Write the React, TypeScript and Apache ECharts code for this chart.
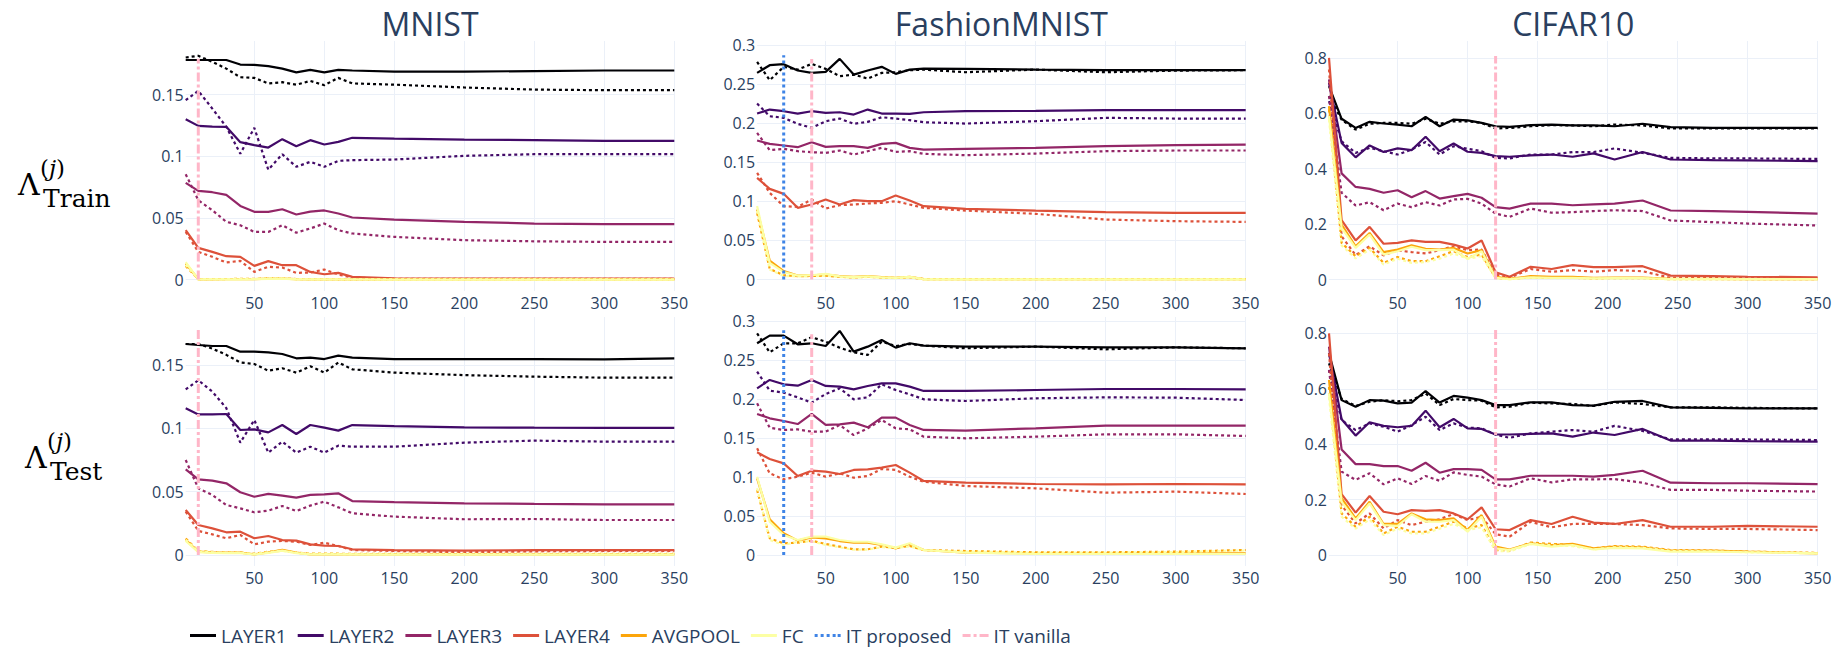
import React, { useEffect, useRef } from 'react';
import * as echarts from 'echarts';

// ---------------- data ----------------
const EPOCHS_A = [1, 10, 20, 30, 40, 50, 60, 70, 80, 90, 100, 110, 120, 150, 200, 250, 300, 350];
const EPOCHS_C = [1, 10, 20, 30, 40, 50, 60, 70, 80, 90, 100, 110, 120, 130, 145, 160, 175, 190, 205, 225, 245, 275, 300, 350];
const LAYERS = ['LAYER1', 'LAYER2', 'LAYER3', 'LAYER4', 'AVGPOOL', 'FC'];
const DATASETS = ['MNIST', 'FashionMNIST', 'CIFAR10'];

// rows: LAYER1, LAYER2, LAYER3, LAYER4, AVGPOOL, FC
const MNIST_TRAIN_SOLID = [
  [0.178, 0.178, 0.178, 0.178, 0.1743, 0.174, 0.173, 0.171, 0.168, 0.170, 0.168, 0.170, 0.1695, 0.1686, 0.1686, 0.169, 0.1695, 0.1695],
  [0.130, 0.1246, 0.124, 0.1238, 0.1114, 0.109, 0.107, 0.1138, 0.108, 0.113, 0.1095, 0.1116, 0.1149, 0.1143, 0.1135, 0.113, 0.1124, 0.1124],
  [0.0784, 0.0719, 0.0708, 0.0686, 0.0597, 0.0549, 0.0549, 0.057, 0.0527, 0.0551, 0.056, 0.0535, 0.0503, 0.0486, 0.0468, 0.0454, 0.0449, 0.0449],
  [0.040, 0.0257, 0.0224, 0.0189, 0.0184, 0.0111, 0.0149, 0.0116, 0.0116, 0.0062, 0.0043, 0.0054, 0.0022, 0.001, 0.0008, 0.0008, 0.0008, 0.0008],
  [0.013, 0.0002, 0.0002, 0.0003, 0.0003, 0.0004, 0.0008, 0.0008, 0.0003, 0.0002, 0.0002, 0.0002, 0.0001, 0.0001, 0.0001, 0.0001, 0.0001, 0.0001],
  [0.014, 0.0001, 0.0001, 0.0002, 0.0002, 0.0003, 0.0006, 0.0007, 0.0002, 0.0001, 0.0001, 0.0001, 0.0001, 0, 0, 0, 0, 0],
];
const MNIST_TRAIN_DOTTED = [
  [0.180, 0.1814, 0.1765, 0.171, 0.164, 0.1635, 0.159, 0.160, 0.158, 0.161, 0.1576, 0.1635, 0.159, 0.158, 0.1557, 0.154, 0.1535, 0.1535],
  [0.1454, 0.153, 0.1386, 0.1238, 0.102, 0.123, 0.089, 0.1016, 0.0914, 0.0954, 0.0914, 0.0962, 0.0968, 0.0973, 0.1003, 0.1016, 0.1016, 0.1016],
  [0.0854, 0.0643, 0.0562, 0.0468, 0.044, 0.0386, 0.0386, 0.044, 0.038, 0.0414, 0.0454, 0.040, 0.0373, 0.0346, 0.0319, 0.031, 0.0305, 0.0305],
  [0.0386, 0.0224, 0.0184, 0.0138, 0.0151, 0.0062, 0.0103, 0.0097, 0.0054, 0.0057, 0.0081, 0.004, 0.0016, 0.0005, 0.0005, 0.0005, 0.0005, 0.0005],
  [0.011, 0.0003, 0.0004, 0.0004, 0.0005, 0.0005, 0.001, 0.0009, 0.0004, 0.0003, 0.0003, 0.0002, 0.0002, 0.0002, 0.0002, 0.0002, 0.0002, 0.0002],
  [0.012, 0.0002, 0.0003, 0.0003, 0.0004, 0.0004, 0.0009, 0.0008, 0.0003, 0.0002, 0.0002, 0.0001, 0.0001, 0.0001, 0.0001, 0.0001, 0.0001, 0.0001],
];
const MNIST_TEST_SOLID = [
  [0.1666, 0.1658, 0.165, 0.165, 0.1605, 0.1605, 0.160, 0.1587, 0.1553, 0.1558, 0.1547, 0.1574, 0.1558, 0.1547, 0.1547, 0.1547, 0.1545, 0.1553],
  [0.1158, 0.111, 0.111, 0.1113, 0.0987, 0.0992, 0.0968, 0.1026, 0.0955, 0.1026, 0.1005, 0.0982, 0.1026, 0.1018, 0.1008, 0.1005, 0.1003, 0.1003],
  [0.0676, 0.0597, 0.0587, 0.0566, 0.0495, 0.046, 0.0482, 0.0468, 0.0453, 0.0474, 0.0479, 0.0487, 0.0426, 0.0418, 0.0408, 0.0403, 0.040, 0.040],
  [0.0355, 0.0237, 0.021, 0.0179, 0.0184, 0.0132, 0.015, 0.0118, 0.0113, 0.0084, 0.0074, 0.0071, 0.0045, 0.0039, 0.0034, 0.0039, 0.0039, 0.0039],
  [0.012, 0.0026, 0.002, 0.0018, 0.0018, 0.0005, 0.002, 0.004, 0.0018, 0.0005, 0.0005, 0.0005, 0.0005, 0.0005, 0.0005, 0.0005, 0.0005, 0.0005],
  [0.011, 0.0022, 0.0017, 0.0015, 0.0015, 0.0004, 0.0017, 0.0035, 0.0015, 0.0004, 0.0004, 0.0004, 0.0004, 0.0003, 0.0003, 0.0003, 0.0003, 0.0003],
];
const MNIST_TEST_DOTTED = [
  [0.1666, 0.1666, 0.163, 0.158, 0.152, 0.1508, 0.1455, 0.1474, 0.144, 0.149, 0.144, 0.152, 0.1466, 0.144, 0.142, 0.1408, 0.140, 0.140],
  [0.1308, 0.138, 0.129, 0.116, 0.0887, 0.1066, 0.0808, 0.0895, 0.0808, 0.0855, 0.0808, 0.0863, 0.0855, 0.0855, 0.0887, 0.0903, 0.0895, 0.0895],
  [0.075, 0.0526, 0.0474, 0.0395, 0.0368, 0.0337, 0.035, 0.0387, 0.0347, 0.039, 0.0421, 0.0376, 0.0329, 0.0303, 0.0282, 0.0284, 0.0276, 0.0276],
  [0.0342, 0.019, 0.0163, 0.0132, 0.0158, 0.0084, 0.0105, 0.0111, 0.0105, 0.0079, 0.0097, 0.0071, 0.0039, 0.0032, 0.0021, 0.0029, 0.0032, 0.0032],
  [0.013, 0.003, 0.0025, 0.002, 0.002, 0.001, 0.0025, 0.0035, 0.002, 0.001, 0.001, 0.001, 0.0008, 0.0008, 0.0008, 0.0008, 0.0008, 0.0008],
  [0.012, 0.0028, 0.0022, 0.0018, 0.0018, 0.0008, 0.0022, 0.0032, 0.0018, 0.0008, 0.0008, 0.0008, 0.0006, 0.0006, 0.0006, 0.0006, 0.0006, 0.0006],
];

const FMNIST_TRAIN_SOLID = [
  [0.2646, 0.2744, 0.2757, 0.2676, 0.2646, 0.2659, 0.2825, 0.2624, 0.2676, 0.2723, 0.2633, 0.2688, 0.2701, 0.2697, 0.2688, 0.268, 0.268, 0.268],
  [0.2125, 0.2176, 0.2155, 0.2125, 0.2155, 0.2134, 0.2142, 0.2112, 0.2176, 0.2125, 0.2125, 0.2121, 0.2142, 0.2155, 0.2159, 0.2168, 0.2168, 0.2168],
  [0.178, 0.1737, 0.1716, 0.1694, 0.1758, 0.1698, 0.1707, 0.1707, 0.1686, 0.1737, 0.175, 0.1686, 0.1664, 0.1673, 0.1686, 0.1707, 0.172, 0.1728],
  [0.1302, 0.1161, 0.1097, 0.0918, 0.096, 0.1024, 0.096, 0.1016, 0.1003, 0.1003, 0.1075, 0.1011, 0.0939, 0.0905, 0.0883, 0.0862, 0.0853, 0.0853],
  [0.0896, 0.0243, 0.0107, 0.0051, 0.0055, 0.0064, 0.0043, 0.0034, 0.0043, 0.003, 0.0021, 0.0034, 0.0004, 0.0004, 0.0004, 0.0004, 0.0004, 0.0004],
  [0.094, 0.0213, 0.0094, 0.005, 0.0055, 0.0073, 0.004, 0.003, 0.004, 0.0028, 0.002, 0.0035, 0.0003, 0.0003, 0.0003, 0.0003, 0.0003, 0.0003],
];
const FMNIST_TRAIN_DOTTED = [
  [0.2787, 0.2552, 0.2723, 0.2688, 0.2761, 0.2697, 0.2603, 0.2624, 0.2573, 0.2646, 0.2654, 0.268, 0.2688, 0.2654, 0.2688, 0.2654, 0.2675, 0.268],
  [0.2253, 0.2091, 0.207, 0.1993, 0.1942, 0.2027, 0.2061, 0.1993, 0.2019, 0.2078, 0.2061, 0.204, 0.2014, 0.1997, 0.2027, 0.207, 0.2061, 0.2061],
  [0.1878, 0.1656, 0.1673, 0.1643, 0.163, 0.1622, 0.1652, 0.160, 0.1643, 0.1686, 0.1634, 0.1643, 0.1609, 0.1592, 0.1613, 0.1643, 0.1652, 0.1652],
  [0.1366, 0.111, 0.0939, 0.093, 0.1024, 0.0909, 0.0952, 0.096, 0.0973, 0.0982, 0.1003, 0.096, 0.0918, 0.0883, 0.0841, 0.0768, 0.0747, 0.0738],
  [0.0853, 0.0137, 0.0055, 0.0043, 0.0045, 0.005, 0.0035, 0.0025, 0.0035, 0.0025, 0.002, 0.003, 0.0005, 0.0005, 0.0005, 0.0005, 0.0005, 0.0005],
  [0.088, 0.0128, 0.0045, 0.004, 0.0042, 0.0048, 0.0032, 0.0022, 0.0032, 0.0022, 0.0018, 0.0028, 0.0004, 0.0004, 0.0004, 0.0004, 0.0004, 0.0004],
];
const FMNIST_TEST_SOLID = [
  [0.2714, 0.2812, 0.2812, 0.2701, 0.2714, 0.2679, 0.2872, 0.2607, 0.2671, 0.2756, 0.2658, 0.2714, 0.2684, 0.2671, 0.2671, 0.2662, 0.2662, 0.265],
  [0.2137, 0.2244, 0.2188, 0.2171, 0.2244, 0.2167, 0.2158, 0.2124, 0.2167, 0.2201, 0.2201, 0.2158, 0.2103, 0.2103, 0.2115, 0.2128, 0.2128, 0.2124],
  [0.1808, 0.1752, 0.1718, 0.1679, 0.1808, 0.1667, 0.1675, 0.1697, 0.1637, 0.1761, 0.1761, 0.1667, 0.1603, 0.1594, 0.1624, 0.1658, 0.1658, 0.1658],
  [0.1316, 0.1231, 0.1175, 0.1013, 0.1081, 0.1068, 0.1038, 0.109, 0.1098, 0.112, 0.1154, 0.1056, 0.0949, 0.0927, 0.091, 0.0906, 0.091, 0.0906],
  [0.0983, 0.0457, 0.0278, 0.0184, 0.0226, 0.0214, 0.0179, 0.0158, 0.0158, 0.0128, 0.0085, 0.0141, 0.0064, 0.003, 0.0021, 0.0021, 0.0021, 0.0021],
  [0.1004, 0.0427, 0.0256, 0.0192, 0.0235, 0.0235, 0.0192, 0.017, 0.017, 0.0137, 0.0094, 0.015, 0.0064, 0.003, 0.0013, 0.0013, 0.0013, 0.0013],
];
const FMNIST_TEST_DOTTED = [
  [0.2842, 0.2598, 0.2714, 0.2714, 0.2791, 0.2735, 0.2658, 0.2598, 0.2564, 0.2735, 0.2679, 0.2705, 0.2684, 0.265, 0.2671, 0.2637, 0.2662, 0.265],
  [0.235, 0.2107, 0.2081, 0.2021, 0.1953, 0.2064, 0.2137, 0.1996, 0.2021, 0.2188, 0.2115, 0.206, 0.1996, 0.1974, 0.2009, 0.2021, 0.2017, 0.1987],
  [0.1944, 0.1632, 0.1603, 0.1611, 0.1581, 0.1581, 0.1667, 0.1538, 0.1624, 0.1731, 0.1624, 0.1611, 0.1517, 0.1496, 0.1517, 0.1547, 0.1547, 0.1526],
  [0.1368, 0.1047, 0.097, 0.1004, 0.1056, 0.1004, 0.1047, 0.0991, 0.1013, 0.1103, 0.109, 0.1004, 0.094, 0.0885, 0.0855, 0.0799, 0.0812, 0.0782],
  [0.0833, 0.0214, 0.015, 0.0158, 0.0184, 0.0141, 0.0107, 0.0073, 0.0073, 0.0107, 0.0094, 0.0115, 0.0064, 0.0051, 0.0034, 0.0034, 0.0043, 0.0064],
  [0.0855, 0.0192, 0.0128, 0.017, 0.0175, 0.013, 0.0098, 0.0068, 0.0068, 0.01, 0.009, 0.011, 0.006, 0.0045, 0.003, 0.003, 0.0038, 0.0058],
];

const CIFAR_TRAIN_SOLID = [
  [0.698, 0.58, 0.547, 0.569, 0.563, 0.559, 0.553, 0.587, 0.553, 0.577, 0.574, 0.565, 0.553, 0.551, 0.557, 0.559, 0.556, 0.556, 0.553, 0.562, 0.55, 0.547, 0.547, 0.547],
  [0.71, 0.493, 0.441, 0.484, 0.46, 0.473, 0.467, 0.515, 0.463, 0.491, 0.461, 0.457, 0.445, 0.443, 0.448, 0.451, 0.443, 0.455, 0.433, 0.46, 0.433, 0.431, 0.43, 0.427],
  [0.722, 0.383, 0.334, 0.327, 0.313, 0.322, 0.297, 0.319, 0.292, 0.301, 0.309, 0.295, 0.261, 0.256, 0.274, 0.274, 0.268, 0.271, 0.274, 0.285, 0.249, 0.247, 0.244, 0.238],
  [0.8, 0.214, 0.141, 0.19, 0.129, 0.132, 0.141, 0.136, 0.136, 0.126, 0.112, 0.141, 0.026, 0.01, 0.046, 0.038, 0.052, 0.045, 0.045, 0.048, 0.014, 0.012, 0.01, 0.008],
  [0.626, 0.198, 0.12, 0.168, 0.099, 0.108, 0.123, 0.111, 0.108, 0.114, 0.094, 0.106, 0.01, 0.002, 0.012, 0.01, 0.01, 0.006, 0.007, 0.007, 0.002, 0.002, 0.001, 0.001],
  [0.59, 0.186, 0.114, 0.162, 0.09, 0.102, 0.118, 0.106, 0.106, 0.108, 0.075, 0.102, 0.006, 0.001, 0.008, 0.006, 0.006, 0.004, 0.005, 0.005, 0.001, 0.001, 0.001, 0.001],
];
const CIFAR_TRAIN_DOTTED = [
  [0.662, 0.577, 0.541, 0.562, 0.565, 0.565, 0.562, 0.58, 0.562, 0.571, 0.571, 0.565, 0.545, 0.547, 0.553, 0.557, 0.556, 0.553, 0.559, 0.556, 0.545, 0.545, 0.545, 0.545],
  [0.644, 0.499, 0.457, 0.475, 0.463, 0.451, 0.469, 0.496, 0.451, 0.481, 0.472, 0.463, 0.439, 0.437, 0.451, 0.451, 0.46, 0.46, 0.473, 0.457, 0.439, 0.437, 0.437, 0.435],
  [0.662, 0.313, 0.267, 0.279, 0.25, 0.274, 0.261, 0.279, 0.267, 0.289, 0.291, 0.274, 0.238, 0.226, 0.256, 0.241, 0.243, 0.247, 0.25, 0.247, 0.213, 0.207, 0.202, 0.195],
  [0.758, 0.156, 0.088, 0.12, 0.087, 0.105, 0.099, 0.094, 0.106, 0.12, 0.106, 0.108, 0.018, 0.006, 0.038, 0.028, 0.034, 0.028, 0.034, 0.03, 0.006, 0.006, 0.005, 0.004],
  [0.614, 0.132, 0.084, 0.114, 0.06, 0.081, 0.066, 0.066, 0.084, 0.102, 0.081, 0.09, 0.006, 0.002, 0.008, 0.006, 0.006, 0.004, 0.005, 0.005, 0.001, 0.001, 0.001, 0.001],
  [0.578, 0.123, 0.076, 0.108, 0.054, 0.075, 0.06, 0.063, 0.075, 0.094, 0.075, 0.084, 0.005, 0.001, 0.006, 0.005, 0.005, 0.003, 0.004, 0.004, 0.001, 0.001, 0.001, 0.001],
];
const CIFAR_TEST_SOLID = [
  [0.728, 0.559, 0.535, 0.559, 0.557, 0.547, 0.55, 0.592, 0.55, 0.574, 0.568, 0.559, 0.541, 0.541, 0.551, 0.551, 0.541, 0.539, 0.553, 0.556, 0.533, 0.531, 0.529, 0.529],
  [0.728, 0.49, 0.431, 0.479, 0.466, 0.461, 0.466, 0.521, 0.461, 0.491, 0.457, 0.455, 0.435, 0.435, 0.437, 0.439, 0.427, 0.442, 0.433, 0.455, 0.413, 0.413, 0.411, 0.409],
  [0.752, 0.381, 0.328, 0.328, 0.321, 0.321, 0.304, 0.333, 0.297, 0.31, 0.31, 0.307, 0.273, 0.273, 0.286, 0.286, 0.286, 0.283, 0.289, 0.304, 0.261, 0.259, 0.259, 0.256],
  [0.8, 0.22, 0.153, 0.213, 0.156, 0.147, 0.162, 0.159, 0.162, 0.15, 0.129, 0.172, 0.093, 0.09, 0.126, 0.112, 0.138, 0.117, 0.112, 0.126, 0.102, 0.102, 0.105, 0.102],
  [0.632, 0.205, 0.132, 0.192, 0.112, 0.112, 0.15, 0.129, 0.126, 0.132, 0.09, 0.144, 0.03, 0.02, 0.042, 0.036, 0.04, 0.024, 0.03, 0.028, 0.016, 0.016, 0.012, 0.006],
  [0.583, 0.192, 0.126, 0.186, 0.108, 0.105, 0.147, 0.12, 0.12, 0.126, 0.084, 0.138, 0.024, 0.018, 0.04, 0.03, 0.036, 0.02, 0.026, 0.024, 0.012, 0.012, 0.01, 0.006],
];
const CIFAR_TEST_DOTTED = [
  [0.692, 0.563, 0.538, 0.553, 0.559, 0.555, 0.559, 0.583, 0.541, 0.563, 0.559, 0.557, 0.533, 0.535, 0.55, 0.547, 0.545, 0.538, 0.551, 0.545, 0.533, 0.533, 0.531, 0.529],
  [0.668, 0.487, 0.451, 0.475, 0.463, 0.445, 0.469, 0.499, 0.451, 0.475, 0.46, 0.457, 0.435, 0.423, 0.439, 0.445, 0.451, 0.445, 0.466, 0.448, 0.417, 0.417, 0.417, 0.415],
  [0.668, 0.301, 0.271, 0.295, 0.255, 0.277, 0.256, 0.285, 0.268, 0.298, 0.289, 0.283, 0.255, 0.247, 0.277, 0.262, 0.273, 0.273, 0.274, 0.261, 0.235, 0.235, 0.232, 0.229],
  [0.728, 0.18, 0.114, 0.15, 0.096, 0.126, 0.108, 0.12, 0.129, 0.148, 0.126, 0.138, 0.075, 0.066, 0.12, 0.1, 0.112, 0.112, 0.112, 0.108, 0.096, 0.094, 0.094, 0.09],
  [0.607, 0.15, 0.102, 0.138, 0.078, 0.102, 0.084, 0.084, 0.102, 0.12, 0.096, 0.108, 0.018, 0.016, 0.045, 0.04, 0.036, 0.024, 0.032, 0.03, 0.018, 0.016, 0.012, 0.008],
  [0.57, 0.138, 0.095, 0.128, 0.072, 0.095, 0.078, 0.078, 0.095, 0.112, 0.09, 0.1, 0.015, 0.013, 0.04, 0.035, 0.032, 0.02, 0.028, 0.026, 0.015, 0.013, 0.01, 0.006],
];

// iteration markers per dataset: [MNIST, FashionMNIST, CIFAR10]
const IT_PROPOSED_EPOCH = [null, 20, null];
const IT_PROPOSED_TOP = [null, [0.287, 0.288], null]; // [train, test]
const IT_VANILLA_EPOCH = [10, 40, 120];
const IT_VANILLA_TOP = [[0.179, 0.1776], [0.2825, 0.283], [0.807, 0.812]];

// ---------------- styling / layout ----------------
const COLORS = ['#000004', '#420a68', '#932667', '#dd513a', '#fca50a', '#fcffa4'];
const BLUE = '#3f84e6';
const PINK = '#ffb6c8';
const FONT = "'Open Sans', 'Noto Sans', sans-serif";
const SERIF = "'DejaVu Serif', serif";
const TEXT = '#2a3f5f';
const GRID_LINE = '#ebf0f8';

const COL_LEFT = [185.7, 757.1, 1329];
const PLOT_W = 488.6;
const ROW_TOP = [41, 317];
const ROW_H = [250, 249];
const Y_RANGE = [
  [[-0.0093, 0.1934], [-0.0147, 0.3054], [-0.0415, 0.8607]],
  [[-0.0087, 0.1879], [-0.0141, 0.3051], [-0.0397, 0.859]],
];
const Y_STEP = [0.05, 0.05, 0.2];

const SOLID_ICON = 'path://M0,0H26V3H0Z';
const DOT_ICON = 'path://M0,0H3V3H0Z M6,0H9V3H6Z M12,0H15V3H12Z M18,0H21V3H18Z M23,0H26V3H23Z';
const DASHDOT_ICON = 'path://M0,0H8V3H0Z M11,0H14V3H11Z M17,0H26V3H17Z';

function zip(xs: number[], ys: number[]) {
  return xs.map((x, i) => [x, ys[i]]);
}

function rowLabel(x: number, y: number, sub: string) {
  return [
    { type: 'text', x, y, style: { text: 'Λ', fontSize: 30, fontFamily: SERIF, fill: '#000', verticalAlign: 'middle' } },
    {
      type: 'text', x: x + 22, y: y - 16,
      style: {
        text: '({j|j})', fontSize: 23, fontFamily: SERIF, fill: '#000', verticalAlign: 'middle',
        rich: { j: { fontStyle: 'italic', fontSize: 23, fontFamily: SERIF, fill: '#000' } },
      },
    },
    { type: 'text', x: x + 25, y: y + 14, style: { text: sub, fontSize: 25, fontFamily: SERIF, fill: '#000', verticalAlign: 'middle' } },
  ];
}

export default function App() {
  const ref = useRef<HTMLDivElement>(null);

  useEffect(() => {
    if (!ref.current) return;
    const chart = echarts.init(ref.current, null, { renderer: 'svg' });

    const panels: any[] = [];
    const rowsData = [
      [
        [MNIST_TRAIN_SOLID, MNIST_TRAIN_DOTTED],
        [FMNIST_TRAIN_SOLID, FMNIST_TRAIN_DOTTED],
        [CIFAR_TRAIN_SOLID, CIFAR_TRAIN_DOTTED],
      ],
      [
        [MNIST_TEST_SOLID, MNIST_TEST_DOTTED],
        [FMNIST_TEST_SOLID, FMNIST_TEST_DOTTED],
        [CIFAR_TEST_SOLID, CIFAR_TEST_DOTTED],
      ],
    ];
    for (let r = 0; r < 2; r++) {
      for (let c = 0; c < 3; c++) {
        panels.push({
          r,
          c,
          x: c === 2 ? EPOCHS_C : EPOCHS_A,
          solid: rowsData[r][c][0],
          dotted: rowsData[r][c][1],
        });
      }
    }

    const grid = panels.map((p) => ({
      left: COL_LEFT[p.c],
      top: ROW_TOP[p.r],
      width: PLOT_W,
      height: ROW_H[p.r],
      containLabel: false,
      outerBoundsMode: 'none',
    }));

    const xAxis = panels.map((p, i) => ({
      type: 'value',
      gridIndex: i,
      min: 1,
      max: 350,
      minInterval: 50,
      maxInterval: 50,
      axisLine: { show: false },
      axisTick: { show: false },
      axisLabel: {
        showMinLabel: false,
        margin: 4,
        fontSize: 16,
        color: TEXT,
        fontFamily: FONT,
      },
      splitLine: { show: true, showMinLine: false, lineStyle: { color: GRID_LINE, width: 1 } },
    }));

    const yAxis = panels.map((p, i) => ({
      type: 'value',
      gridIndex: i,
      min: Y_RANGE[p.r][p.c][0],
      max: Y_RANGE[p.r][p.c][1],
      minInterval: Y_STEP[p.c],
      maxInterval: Y_STEP[p.c],
      axisLine: { show: false },
      axisTick: { show: false },
      axisLabel: {
        showMinLabel: false,
        showMaxLabel: false,
        margin: 2,
        fontSize: 16,
        color: TEXT,
        fontFamily: FONT,
      },
      splitLine: {
        show: true,
        showMinLine: false,
        showMaxLine: false,
        lineStyle: { color: GRID_LINE, width: 1 },
      },
    }));

    const series: any[] = [];
    panels.forEach((p, i) => {
      for (let l = 0; l < LAYERS.length; l++) {
        series.push({
          type: 'line',
          name: LAYERS[l],
          xAxisIndex: i,
          yAxisIndex: i,
          data: zip(p.x, p.solid[l]),
          symbol: 'none',
          silent: true,
          lineStyle: { color: COLORS[l], width: 2.2 },
          itemStyle: { color: COLORS[l] },
        });
        series.push({
          type: 'line',
          name: LAYERS[l],
          xAxisIndex: i,
          yAxisIndex: i,
          data: zip(p.x, p.dotted[l]),
          symbol: 'none',
          silent: true,
          lineStyle: { color: COLORS[l], width: 2.2, type: [3, 3] },
          itemStyle: { color: COLORS[l] },
        });
      }
    });
    panels.forEach((p, i) => {
      const pe = IT_PROPOSED_EPOCH[p.c];
      const pt = IT_PROPOSED_TOP[p.c];
      if (pe !== null && pt) {
        series.push({
          type: 'line',
          name: 'IT proposed',
          xAxisIndex: i,
          yAxisIndex: i,
          data: [[pe, 0], [pe, pt[p.r]]],
          symbol: 'none',
          silent: true,
          z: 5,
          lineStyle: { color: BLUE, width: 3, type: [3, 3] },
          itemStyle: { color: BLUE },
        });
      }
      const ve = IT_VANILLA_EPOCH[p.c];
      const vt = IT_VANILLA_TOP[p.c];
      series.push({
        type: 'line',
        name: 'IT vanilla',
        xAxisIndex: i,
        yAxisIndex: i,
        data: [[ve, 0], [ve, vt[p.r]]],
        symbol: 'none',
        silent: true,
        z: 5,
        lineStyle: { color: PINK, width: 3, type: [9, 3, 3, 3] },
        itemStyle: { color: PINK },
      });
    });

    const legendData = [
      ...LAYERS.map((n, i) => ({ name: n, icon: SOLID_ICON, itemStyle: { color: COLORS[i], borderWidth: 0 } })),
      { name: 'IT proposed', icon: DOT_ICON, itemStyle: { color: BLUE, borderWidth: 0 } },
      { name: 'IT vanilla', icon: DASHDOT_ICON, itemStyle: { color: PINK, borderWidth: 0 } },
    ];

    const colCenter = COL_LEFT.map((l) => l + PLOT_W / 2);
    const graphic: any[] = [
      ...DATASETS.map((d, c) => ({
        type: 'text',
        x: colCenter[c],
        y: 23,
        style: {
          text: d,
          fontSize: 32,
          fontFamily: FONT,
          fill: TEXT,
          align: 'center',
          verticalAlign: 'middle',
        },
      })),
      ...rowLabel(18, 184, 'Train'),
      ...rowLabel(25, 457, 'Test'),
    ];

    chart.setOption({
      animation: false,
      backgroundColor: '#ffffff',
      grid,
      xAxis,
      yAxis,
      series,
      graphic,
      legend: {
        show: true,
        left: 190,
        top: 626,
        padding: 0,
        itemWidth: 26,
        itemHeight: 3,
        itemGap: 11,
        selectedMode: false,
        symbolKeepAspect: true,
        textStyle: { fontSize: 19, color: TEXT, fontFamily: FONT },
        data: legendData,
      },
    });

    return () => {
      chart.dispose();
    };
  }, []);

  return (
    <div
      ref={ref}
      style={{ position: 'fixed', left: 0, top: 0, width: 1835, height: 648, background: '#fff' }}
    />
  );
}
